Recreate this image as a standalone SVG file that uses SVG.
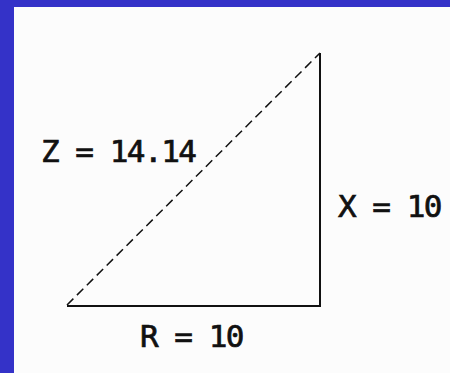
<svg xmlns="http://www.w3.org/2000/svg" width="450" height="373" viewBox="0 0 450 373">
<style>
.lbl{font-family:"DejaVu Sans Mono","Liberation Mono",monospace;font-size:31px;letter-spacing:-1.5px;fill:#111;stroke:#111;stroke-width:0.7px}
.side{stroke:#111;stroke-width:2;fill:none}
.hyp{stroke:#111;stroke-width:1.5;fill:none;stroke-dasharray:9 5}
</style>
<rect x="0" y="0" width="450" height="373" fill="#fcfcfc"/>
<rect x="0" y="0" width="450" height="7" fill="#3432c8"/>
<rect x="0" y="0" width="14" height="373" fill="#3432c8"/>
<g id="connectors">
<polyline class="side" points="67,306 320,306 320,53"/>
<line class="hyp" x1="67" y1="305" x2="320" y2="53"/>
</g>
<g id="labelZ"><text class="lbl" x="41" y="162">Z = 14.14</text></g>
<g id="labelX"><text class="lbl" x="338" y="217">X = 10</text></g>
<g id="labelR"><text class="lbl" x="140" y="347">R = 10</text></g>
</svg>
